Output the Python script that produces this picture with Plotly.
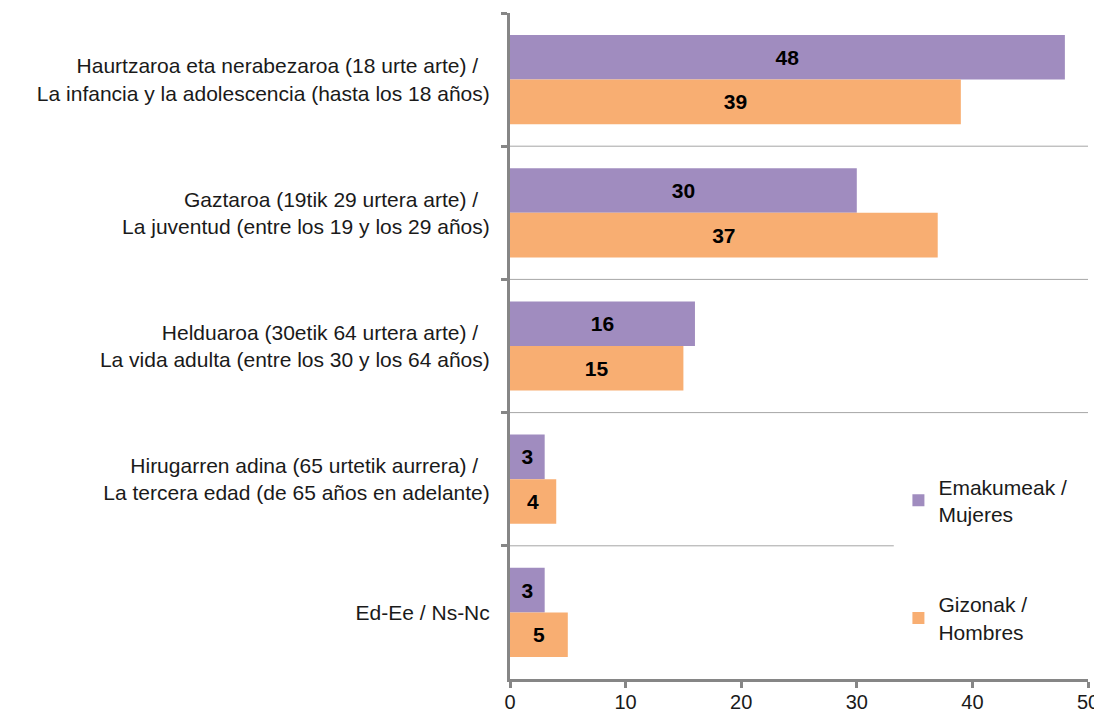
import plotly.graph_objects as go

categories = [
    "Haurtzaroa eta nerabezaroa (18 urte arte) /&nbsp;&nbsp;<br>La infancia y la adolescencia (hasta los 18 años)",
    "Gaztaroa (19tik 29 urtera arte) /&nbsp;&nbsp;<br>La juventud (entre los 19 y los 29 años)",
    "Helduaroa (30etik 64 urtera arte) /&nbsp;&nbsp;<br>La vida adulta (entre los 30 y los 64 años)",
    "Hirugarren adina (65 urtetik aurrera) /&nbsp;&nbsp;<br>La tercera edad (de 65 años en adelante)",
    "Ed-Ee / Ns-Nc",
]
mujeres = [48, 30, 16, 3, 3]
hombres = [39, 37, 15, 4, 5]
series_names = ["Emakumeak /<br>Mujeres", "Gizonak /<br>Hombres"]
x_ticks = [0, 10, 20, 30, 40, 50]

FONT = "Liberation Sans, Arial"
label_font = dict(family=FONT, size=21, color="black", weight="bold")

fig = go.Figure()
fig.add_trace(go.Bar(
    y=categories, x=mujeres, orientation="h", name=series_names[0],
    legendgroup="a",
    marker=dict(color="#a08cbf", line=dict(width=0)),
    text=mujeres, textposition="inside", insidetextanchor="middle",
    textfont=label_font, constraintext="none",
))
fig.add_trace(go.Bar(
    y=categories, x=hombres, orientation="h", name=series_names[1],
    legendgroup="b",
    marker=dict(color="#f8ae72", line=dict(width=0)),
    text=hombres, textposition="inside", insidetextanchor="middle",
    textfont=label_font, constraintext="none",
))

# category separators
shapes = []
for i in range(1, len(categories)):
    x1 = 50 if i != 4 else 33.2
    shapes.append(dict(type="line", xref="x", yref="y", x0=0, x1=x1,
                       y0=i - 0.5, y1=i - 0.5, line=dict(color="#a6a6a6", width=1),
                       layer="below"))

fig.update_layout(
    width=1102, height=712,
    margin=dict(l=502, r=22, t=5, b=41, autoexpand=False),
    paper_bgcolor="white", plot_bgcolor="white",
    barmode="group", bargap=0.33, bargroupgap=0,
    font=dict(family=FONT, size=21, color="#1a1a1a"),
    shapes=shapes,
    showlegend=True,
    legend=dict(x=0.672, y=0.319, xanchor="left", yanchor="top",
                bgcolor="rgba(0,0,0,0)", tracegroupgap=60,
                font=dict(family=FONT, size=21, color="#1a1a1a"), itemwidth=30),
    xaxis=dict(range=[0, 50], tickvals=x_ticks, showgrid=False, zeroline=False,
               automargin=False,
               showline=True, linecolor="#868686", linewidth=3,
               ticks="outside", ticklen=6, tickwidth=3, tickcolor="#868686",
               ticklabelstandoff=-3,
               tickfont=dict(family=FONT, size=20, color="#1a1a1a")),
    yaxis=dict(autorange="reversed", showgrid=False, zeroline=False,
               automargin=False,
               showline=True, linecolor="#868686", linewidth=3,
               ticks="outside", ticklen=6, tickwidth=3, tickcolor="#868686",
               tickson="boundaries", ticklabelstandoff=13,
               tickfont=dict(family=FONT, size=21, color="#1a1a1a")),
)
fig.write_html("out.html")
